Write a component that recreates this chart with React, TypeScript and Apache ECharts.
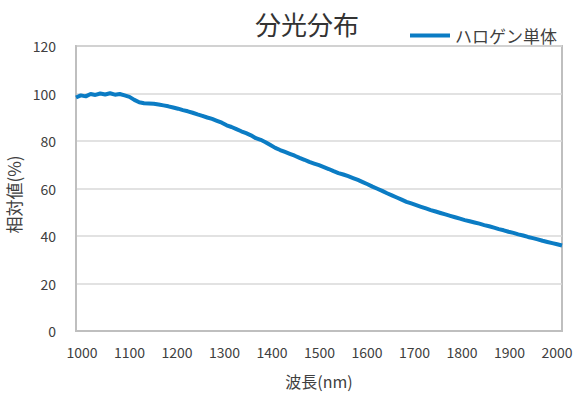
import React, { useEffect, useRef } from "react";
import * as echarts from "echarts";

const wavelengths: number[] = [
  1000, 1010, 1020, 1030, 1040, 1050, 1060, 1070, 1080, 1090,
  1100, 1110, 1120, 1130, 1140, 1150, 1160, 1170, 1180, 1190,
  1200, 1210, 1220, 1230, 1240, 1250, 1260, 1270, 1280, 1290,
  1300, 1310, 1320, 1330, 1340, 1350, 1360, 1370, 1380, 1390,
  1400, 1410, 1420, 1430, 1440, 1450, 1460, 1470, 1480, 1490,
  1500, 1510, 1520, 1530, 1540, 1550, 1560, 1570, 1580, 1590,
  1600, 1610, 1620, 1630, 1640, 1650, 1660, 1670, 1680, 1690,
  1700, 1710, 1720, 1730, 1740, 1750, 1760, 1770, 1780, 1790,
  1800, 1810, 1820, 1830, 1840, 1850, 1860, 1870, 1880, 1890,
  1900, 1910, 1920, 1930, 1940, 1950, 1960, 1970, 1980, 1990,
  2000,
];

const halogen: number[] = [
  98.3, 99.2, 98.8, 99.8, 99.4, 100.0, 99.6, 100.1, 99.5, 99.8,
  99.2, 98.6, 97.3, 96.3, 95.9, 95.8, 95.7, 95.4, 95.0, 94.6,
  94.1, 93.6, 93.0, 92.5, 91.9, 91.2, 90.6, 89.9, 89.3, 88.5,
  87.7, 86.6, 85.9, 85.0, 84.1, 83.3, 82.4, 81.2, 80.5, 79.5,
  78.3, 77.1, 76.2, 75.4, 74.6, 73.8, 72.9, 72.1, 71.2, 70.5,
  69.8, 69.0, 68.2, 67.3, 66.5, 65.9, 65.2, 64.4, 63.6, 62.7,
  61.8, 60.8, 59.9, 59.0, 58.0, 57.1, 56.2, 55.3, 54.4, 53.7,
  53.0, 52.3, 51.6, 50.9, 50.3, 49.7, 49.1, 48.5, 47.9, 47.3,
  46.7, 46.2, 45.7, 45.2, 44.6, 44.1, 43.5, 42.9, 42.4, 41.8,
  41.3, 40.7, 40.2, 39.6, 39.1, 38.6, 38.0, 37.5, 37.0, 36.5,
  36.0,
];

const seriesName = "ハロゲン単体";
const titleText = "分光分布";
const xName = "波長(nm)";
const yName = "相対値(%)";

export default function App() {
  const ref = useRef<HTMLDivElement>(null);

  useEffect(() => {
    if (!ref.current) return;
    const chart = echarts.init(ref.current, null, { renderer: "svg" });
    const cjk = '"Noto Sans CJK JP", "Noto Sans", sans-serif';
    const textColor = "#404040";
    chart.setOption({
      animation: false,
      backgroundColor: "#ffffff",
      title: {
        text: titleText,
        left: 302,
        top: 5,
        textAlign: "center",
        textStyle: { fontFamily: cjk, fontSize: 26, fontWeight: "normal", color: "#333333" },
      },
      legend: {
        left: 405,
        top: 22,
        icon: "rect",
        itemWidth: 40,
        itemHeight: 4,
        itemGap: 8,
        textStyle: { fontFamily: cjk, fontSize: 17, color: textColor },
        data: [seriesName],
      },
      grid: [
        {
          left: 76,
          right: 15,
          top: 46,
          bottom: 63,
          show: true,
          borderColor: "#bfbfbf",
          borderWidth: 2,
          outerBoundsMode: "none",
          containLabel: false,
        },
        {
          left: 82,
          right: 20,
          top: 46,
          bottom: 63,
          show: false,
          outerBoundsMode: "none",
          containLabel: false,
        },
      ],
      xAxis: [
        {
          type: "value",
          gridIndex: 0,
          min: 1000,
          max: 2000,
          interval: 100,
          axisLine: { show: true, lineStyle: { color: "#bfbfbf", width: 2 } },
          axisTick: { show: false },
          axisLabel: { show: false },
          splitLine: { show: false },
          name: xName,
          nameLocation: "middle",
          nameGap: 42,
          nameTextStyle: { fontFamily: cjk, fontSize: 16, color: textColor },
        },
        {
          type: "value",
          gridIndex: 1,
          min: 1000,
          max: 2000,
          interval: 100,
          axisLine: { show: false },
          axisTick: { show: false },
          splitLine: { show: false },
          axisLabel: {
            show: true,
            margin: 14,
            fontFamily: cjk,
            fontSize: 14,
            color: textColor,
            formatter: (v: number) => String(v),
          },
        },
      ],
      yAxis: [
        {
          type: "value",
          gridIndex: 0,
          min: 0,
          max: 120,
          interval: 20,
          axisLine: { show: true, lineStyle: { color: "#bfbfbf", width: 2 } },
          axisTick: { show: false },
          axisLabel: {
            margin: 20,
            fontFamily: cjk,
            fontSize: 14,
            color: textColor,
            formatter: (v: number) => String(v),
          },
          splitLine: { show: true, lineStyle: { color: "#d9d9d9", width: 1.5 } },
          name: yName,
          nameLocation: "middle",
          nameGap: 50,
          nameRotate: 90,
          nameTextStyle: { fontFamily: cjk, fontSize: 17, color: textColor, padding: [0, 12, 0, 0] },
        },
        {
          type: "value",
          gridIndex: 1,
          min: 0,
          max: 120,
          show: false,
        },
      ],
      series: [
        {
          name: seriesName,
          type: "line",
          xAxisIndex: 0,
          yAxisIndex: 0,
          data: wavelengths.map((w, i) => [w, halogen[i]]),
          showSymbol: false,
          symbol: "none",
          lineStyle: { color: "#0b7cc4", width: 4 },
          itemStyle: { color: "#0b7cc4" },
        },
      ],
    });
    return () => chart.dispose();
  }, []);

  return (
    <div
      ref={ref}
      style={{ position: "absolute", left: 0, top: 0, width: 577, height: 394 }}
    />
  );
}
